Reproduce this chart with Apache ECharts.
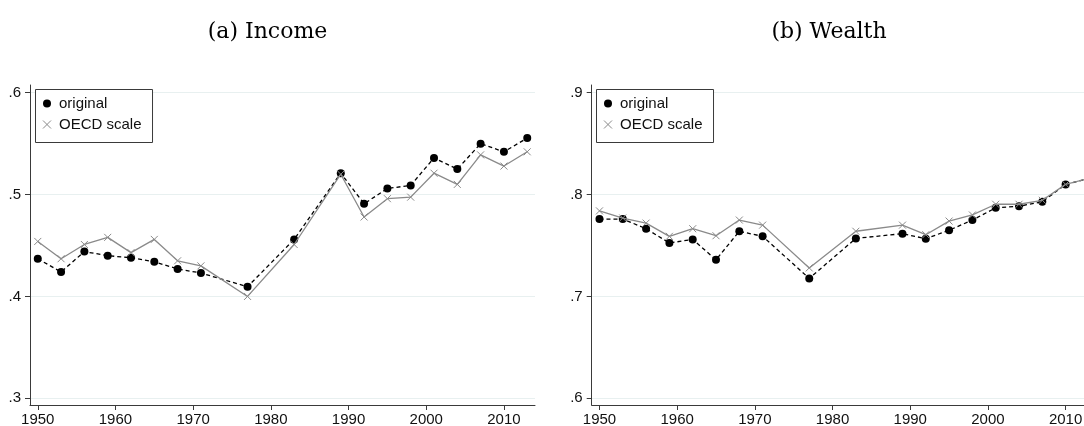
<!DOCTYPE html>
<html>
<head>
<meta charset="utf-8">
<script src="https://cdn.jsdelivr.net/npm/echarts@6/dist/echarts.min.js"></script>
<style>
  html, body { margin: 0; padding: 0; background: #fff; }
  #chart { width: 1084px; height: 426px; }
</style>
</head>
<body>
<div id="chart"></div>
<script>
// Survey years
const years = [1950, 1953, 1956, 1959, 1962, 1965, 1968, 1971, 1977, 1983, 1989, 1992, 1995, 1998, 2001, 2004, 2007, 2010, 2013];

// (a) Income
const incomeOriginal = [0.437, 0.424, 0.444, 0.440, 0.438, 0.434, 0.427, 0.423, 0.4095, 0.456, 0.521, 0.491, 0.506, 0.509, 0.536, 0.525, 0.550, 0.542, 0.5555];
const incomeOECD     = [0.454, 0.437, 0.451, 0.458, 0.443, 0.456, 0.435, 0.430, 0.400, 0.451, 0.520, 0.478, 0.496, 0.4975, 0.521, 0.510, 0.539, 0.528, 0.542];

// (b) Wealth
const wealthOriginal = [0.776, 0.776, 0.7665, 0.7525, 0.756, 0.736, 0.764, 0.759, 0.7177, 0.757, 0.7616, 0.7567, 0.765, 0.775, 0.787, 0.7885, 0.793, 0.810, 0.816];
const wealthOECD     = [0.784, 0.777, 0.772, 0.759, 0.7665, 0.7596, 0.775, 0.770, 0.728, 0.764, 0.770, 0.7606, 0.774, 0.780, 0.7905, 0.7905, 0.7944, 0.810, 0.816];

// Axis ticks
const yearTicks = [1950, 1960, 1970, 1980, 1990, 2000, 2010];
const incomeTicks = [0.3, 0.4, 0.5, 0.6];
const wealthTicks = [0.6, 0.7, 0.8, 0.9];

const panelTitles = ['(a) Income', '(b) Wealth'];
const seriesNames = ['original', 'OECD scale'];

const BLACK = '#000000';
const GREY = '#8a8a8a';
const AXIS = '#3a3a3a';
const GRIDLINE = '#e8f0f0';
const CROSS = 'path://M0,0L10,10M10,0L0,10';
const SANS = '"Liberation Sans", Arial, sans-serif';

const pairs = (vals) => years.map((y, i) => [y, vals[i]]);
const dropZero = (v) => v.toFixed(1).replace(/^0/, '');

function xAxisFor(gridIndex) {
  return {
    type: 'value', gridIndex, min: 1949, max: 2014,
    axisLine: { show: true, onZero: false, lineStyle: { color: AXIS, width: 1 } },
    axisTick: { show: true, length: 5, customValues: yearTicks, lineStyle: { color: AXIS } },
    axisLabel: { customValues: yearTicks, margin: 7, color: '#111', fontFamily: SANS, fontSize: 15, formatter: (v) => String(v) },
    splitLine: { show: false }
  };
}

function yAxisFor(gridIndex, min, max, ticks) {
  return {
    type: 'value', gridIndex, min, max,
    axisLine: { show: true, onZero: false, lineStyle: { color: AXIS, width: 1 } },
    axisTick: { show: true, length: 5, customValues: ticks, lineStyle: { color: AXIS } },
    axisLabel: { customValues: ticks, margin: 9, color: '#111', fontFamily: SANS, fontSize: 15, formatter: dropZero },
    splitLine: { show: true, lineStyle: { color: GRIDLINE, width: 1 } }
  };
}

function originalSeries(idx, vals) {
  return {
    name: seriesNames[0], type: 'line', xAxisIndex: idx, yAxisIndex: idx,
    data: pairs(vals), symbol: 'circle', symbolSize: 8, showSymbol: true,
    itemStyle: { color: BLACK, borderWidth: 0 },
    lineStyle: { color: BLACK, width: 1.3, type: [4, 3] },
    z: 3, animation: false, emphasis: { disabled: true }
  };
}

function oecdSeries(idx, vals) {
  return {
    name: seriesNames[1], type: 'line', xAxisIndex: idx, yAxisIndex: idx,
    data: pairs(vals), symbol: CROSS, symbolSize: 7, showSymbol: true,
    itemStyle: { color: GREY, borderColor: GREY, borderWidth: 1 },
    lineStyle: { color: GREY, width: 1.3 },
    z: 4, animation: false, emphasis: { disabled: true }
  };
}

function legendAt(left) {
  return {
    orient: 'vertical', left, top: 89.5,
    padding: [6, 11, 10, 7], itemGap: 5, itemWidth: 8, itemHeight: 8,
    borderColor: AXIS, borderWidth: 1, borderRadius: 0, backgroundColor: '#fff',
    selectedMode: false,
    textStyle: { fontFamily: SANS, fontSize: 15, color: '#111', padding: [0, 0, 0, 3], lineHeight: 16 },
    data: [
      { name: seriesNames[0], icon: 'circle', itemStyle: { color: BLACK, borderWidth: 0 } },
      { name: seriesNames[1], icon: CROSS, itemStyle: { color: GREY, borderColor: GREY, borderWidth: 1 } }
    ]
  };
}

const chart = echarts.init(document.getElementById('chart'), null, { renderer: 'canvas' });

chart.setOption({
  backgroundColor: '#fff',
  animation: false,
  grid: [
    { left: 30, top: 85, width: 505, height: 320, outerBoundsMode: 'none', containLabel: false },
    { left: 591.7, top: 85, width: 505, height: 320, outerBoundsMode: 'none', containLabel: false }
  ],
  xAxis: [xAxisFor(0), xAxisFor(1)],
  yAxis: [
    yAxisFor(0, 0.2934, 0.6076, incomeTicks),
    yAxisFor(1, 0.5934, 0.9076, wealthTicks)
  ],
  legend: [legendAt(35.5), legendAt(596.5)],
  graphic: [
    { type: 'text', x: 267.5, y: 32, style: { text: panelTitles[0], align: 'center', verticalAlign: 'middle', font: '22px "DejaVu Serif", serif', fill: '#000' } },
    { type: 'text', x: 829, y: 32, style: { text: panelTitles[1], align: 'center', verticalAlign: 'middle', font: '22px "DejaVu Serif", serif', fill: '#000' } }
  ],
  series: [
    originalSeries(0, incomeOriginal),
    oecdSeries(0, incomeOECD),
    originalSeries(1, wealthOriginal),
    oecdSeries(1, wealthOECD)
  ]
});
</script>
</body>
</html>
